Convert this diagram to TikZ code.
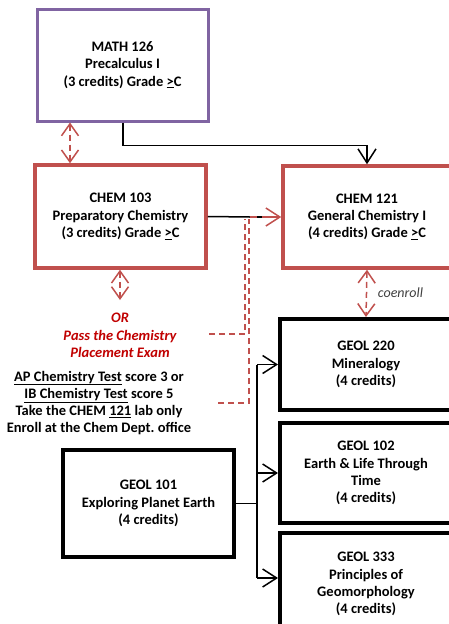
\documentclass[tikz,border=0pt]{standalone}
\usepackage{fontspec}
\setmainfont{Carlito}
\usetikzlibrary{arrows.meta}
\definecolor{purp}{HTML}{8064A2}
\definecolor{chemred}{HTML}{C0504D}
\definecolor{txtred}{HTML}{C00000}
\definecolor{coen}{HTML}{404040}
\frenchspacing
\begin{document}
\begin{tikzpicture}[x=1pt,y=-1pt,
  box/.style={draw, line width=4pt, inner sep=0pt, align=center,
    font=\fontsize{14.5}{17.3}\selectfont\bfseries},
  txt/.style={inner sep=0pt, align=center, font=\fontsize{14.5}{17.3}\selectfont\bfseries},
  blk/.style={draw=black, line width=1.5pt},
  rdash/.style={draw=chemred, line width=1.5pt, dash pattern=on 6pt off 4pt},
  tip/.style={-{Straight Barb[length=14pt,width=18pt]}},
  dtip/.style={{Straight Barb[length=12pt,width=17pt]}-{Straight Barb[length=12pt,width=17pt]}}]
\useasboundingbox (0,0) rectangle (449,624);
\clip (0,0) rectangle (449,624);

% boxes
\node[box, draw=purp, line width=3pt, minimum width=171pt, minimum height=112pt] (math) at (122.5,65)
  {MATH 126\\Precalculus I\\(3 credits) Grade \underline{>}C};
\node[box, draw=chemred, line width=3.5pt, minimum width=171pt, minimum height=103pt] (chem103) at (120.5,216.5)
  {CHEM 103\\Preparatory Chemistry\\(3 credits) Grade \underline{>}C};
\node[box, draw=chemred, line width=3.5pt, minimum width=168pt, minimum height=102pt] (chem121) at (367,217)
  {CHEM 121\\General Chemistry I\\(4 credits) Grade \underline{>}C};
\node[box, minimum width=172pt, minimum height=91pt] (geol220) at (366,364.5)
  {GEOL 220\\Mineralogy\\(4 credits)};
\node[box, minimum width=172pt, minimum height=100pt] (geol102) at (366,473)
  {GEOL 102\\Earth \& Life Through\\Time\\(4 credits)};
\node[box, minimum width=172pt, minimum height=100pt, text depth=0pt] (geol333) at (366,583)
  {GEOL 333\\Principles of\\Geomorphology\\(4 credits)};
\node[box, minimum width=171pt, minimum height=107pt] (geol101) at (148.5,503.5)
  {GEOL 101\\Exploring Planet Earth\\(4 credits)};

% texts
\node[txt, text=txtred, font=\fontsize{14.5}{17.3}\selectfont\bfseries\itshape] (orpass) at (120,335.5)
  {OR\\Pass the Chemistry\\Placement Exam};
\node[txt] (aptext) at (99,403)
  {\underline{AP Chemistry Test} score 3 or\\\underline{IB Chemistry Test} score 5\\Take the CHEM \underline{121} lab only\\Enroll at the Chem Dept. office};
\node[inner sep=0pt, text=coen, font=\fontsize{14}{16}\selectfont\itshape] (coenlab) at (400.5,293) {coenroll};

% coordinates
\coordinate (ce) at (120,300);
\coordinate (ra) at (250,217);
\coordinate (bk1) at (257,217);
\coordinate (bk2) at (262,217);
\coordinate (d1a) at (209,334);
\coordinate (d1b) at (245,334);
\coordinate (d1c) at (245,219);
\coordinate (d2a) at (218,403);
\coordinate (d2b) at (249,403);
\coordinate (d2c) at (249,219);
\coordinate (j) at (257,503.5);
\coordinate (jt) at (257,364.5);
\coordinate (jb) at (257,578);

% connectors
\draw[rdash, dtip] (math.south -| 70,0) -- (chem103.north -| 70,0);
\draw[blk, tip] (math.south -| 123,0) -- ++(0,23) -| (chem121.north);
\draw[rdash] (d1a) -- (d1b) -- (d1c);
\draw[rdash] (d2a) -- (d2b) -- (d2c);
\draw[blk] (chem103.east) -- (ra);
\draw[draw=chemred, line width=1.5pt, tip] (ra) -- (chem121.west);
\draw[blk] (bk1) -- (bk2);
\draw[rdash, dtip] (chem103.south -| ce) -- (ce);
\draw[rdash, dtip] (chem121.south) -- (geol220.north);
\draw[blk] (geol101.east) -- (j);
\draw[blk] (jt) -- (jb);
\draw[blk, tip] (jt) -- (geol220.west);
\draw[blk, tip] (j |- geol102.west) -- (geol102.west);
\draw[blk, tip] (jb) -- (geol333.west |- jb);
\end{tikzpicture}
\end{document}
